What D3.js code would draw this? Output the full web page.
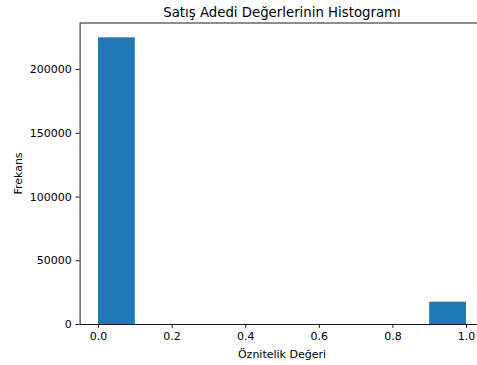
<!DOCTYPE html>
<html>
<head>
<meta charset="utf-8">
<script src="https://cdn.jsdelivr.net/npm/d3@7"></script>
<style>
  body { margin: 0; background: #fff; }
  svg text { font-family: "DejaVu Sans", sans-serif; fill: #000; }
</style>
</head>
<body>
<div id="chart"></div>
<script>
const binEdges = [0, 0.1, 0.2, 0.3, 0.4, 0.5, 0.6, 0.7, 0.8, 0.9, 1.0];
const counts = [224900, 0, 0, 0, 0, 0, 0, 0, 0, 17500];
const xTicks = [0, 0.2, 0.4, 0.6, 0.8, 1.0];
const yTicks = [0, 50000, 100000, 150000, 200000];

const W = 477, H = 365;
const m = { left: 79.6, right: 484.4, top: 23, bottom: 324 };

const svg = d3.select("#chart").append("svg")
  .attr("width", W).attr("height", H);

const x = d3.scaleLinear().domain([-0.05, 1.05]).range([m.left, m.right]);
const yMax = d3.max(counts) * 1.05;
const y = d3.scaleLinear().domain([0, yMax]).range([m.bottom, m.top]);

const bins = counts.map((c, i) => ({ x0: binEdges[i], x1: binEdges[i + 1], c }));

svg.append("g").selectAll("rect")
  .data(bins.filter(d => d.c > 0))
  .join("rect")
  .attr("x", d => x(d.x0))
  .attr("width", d => x(d.x1) - x(d.x0))
  .attr("y", d => y(d.c))
  .attr("height", d => y(0) - y(d.c))
  .attr("fill", "#1f77b4");

const tickLen = 3.9, tickPad = 3.9;

const xAxis = svg.append("g")
  .attr("transform", `translate(0,${m.bottom})`)
  .call(d3.axisBottom(x).tickValues(xTicks).tickFormat(d3.format(".1f"))
    .tickSize(tickLen).tickPadding(tickPad).tickSizeOuter(0));

const yAxis = svg.append("g")
  .attr("transform", `translate(${m.left},0)`)
  .call(d3.axisLeft(y).tickValues(yTicks).tickFormat(d3.format("d"))
    .tickSize(tickLen).tickPadding(tickPad).tickSizeOuter(0));

[xAxis, yAxis].forEach(g => {
  g.selectAll("text").style("font-size", "11px");
  g.selectAll("line").attr("stroke", "#000").attr("stroke-width", 0.9);
  g.select(".domain").attr("stroke", "#000").attr("stroke-width", 0.9);
});

// top and right spines
svg.append("line")
  .attr("x1", m.left).attr("x2", m.right)
  .attr("y1", m.top).attr("y2", m.top)
  .attr("stroke", "#000").attr("stroke-width", 0.9);
svg.append("line")
  .attr("x1", m.right).attr("x2", m.right)
  .attr("y1", m.top).attr("y2", m.bottom)
  .attr("stroke", "#000").attr("stroke-width", 0.9);

svg.append("text")
  .attr("x", (m.left + m.right) / 2).attr("y", 17)
  .attr("text-anchor", "middle")
  .style("font-size", "13.3px")
  .text("Satış Adedi Değerlerinin Histogramı");

svg.append("text")
  .attr("x", (m.left + m.right) / 2).attr("y", 358)
  .attr("text-anchor", "middle")
  .style("font-size", "11px")
  .text("Öznitelik Değeri");

svg.append("text")
  .attr("transform", `translate(22,${(m.top + m.bottom) / 2}) rotate(-90)`)
  .attr("text-anchor", "middle")
  .style("font-size", "11px")
  .text("Frekans");
</script>
</body>
</html>
